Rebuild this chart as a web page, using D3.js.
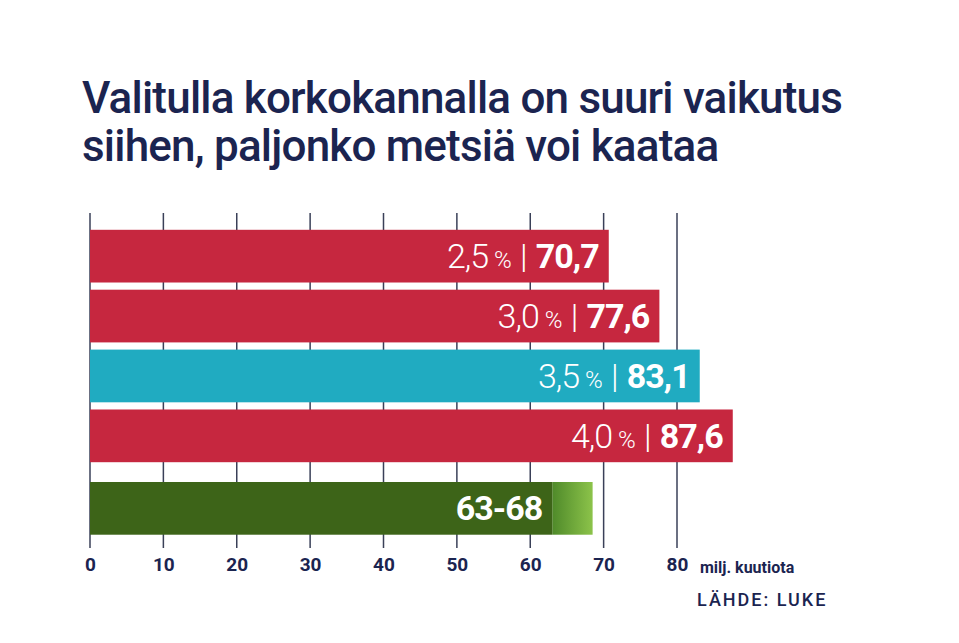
<!DOCTYPE html>
<html><head><meta charset="utf-8">
<script src="https://cdn.jsdelivr.net/npm/d3@7"></script>
<style>body{margin:0;background:#fff}</style>
</head><body><div id="chart"></div>
<script>
// chart data
var rates = ["2,5", "3,0", "3,5", "4,0"];
var volumes = [70.7, 77.6, 83.1, 87.6];
var barColors = ["#c6273f", "#c6273f", "#20abc1", "#c6273f"];
var rangeLow = 63, rangeHigh = 68.5, rangeLabel = "63-68";
var ticks = [0, 10, 20, 30, 40, 50, 60, 70, 80];

var svg = d3.select("#chart").append("svg").attr("width", 959).attr("height", 643);

var x = d3.scaleLinear().domain([0, 80]).range([90, 677]);
var y = d3.scaleBand().domain(d3.range(4)).range([228, 464]).paddingInner(0.12).paddingOuter(0.03);
var greenY = 482, bh = y.bandwidth();

// title
svg.selectAll("text.title").data(["Valitulla korkokannalla on suuri vaikutus", "siihen, paljonko metsiä voi kaataa"])
  .enter().append("text")
  .attr("x", 82).attr("y", function(d, i){ return 113 + i * 48; })
  .attr("font-family", "Roboto").attr("font-weight", 500).attr("font-size", 44)
  .attr("fill", "#1b2450").attr("letter-spacing", -0.8).text(function(d){ return d; });

// grid
svg.selectAll("line.grid").data(ticks).enter().append("line")
  .attr("x1", x).attr("x2", x).attr("y1", 213).attr("y2", 548)
  .attr("stroke", "#3a4058").attr("stroke-width", 1.5);

var defs = svg.append("defs");
var grad = defs.append("linearGradient").attr("id", "gr");
grad.append("stop").attr("offset", "0").attr("stop-color", "#4f8a2a");
grad.append("stop").attr("offset", "1").attr("stop-color", "#8cc34a");

// bars
svg.selectAll("rect.bar").data(volumes).enter().append("rect")
  .attr("x", x(0)).attr("y", function(d, i){ return y(i); })
  .attr("width", function(d){ return x(d) - x(0); }).attr("height", bh)
  .attr("fill", function(d, i){ return barColors[i]; });

var lab = svg.selectAll("text.lab").data(volumes).enter().append("text")
  .attr("x", function(d){ return x(d) - 10; })
  .attr("y", function(d, i){ return y(i) + bh / 2 + 12; })
  .attr("text-anchor", "end").attr("fill", "#fff").attr("font-family", "Roboto");
lab.append("tspan").attr("font-weight", 300).attr("font-size", 34).attr("letter-spacing", -1).text(function(d, i){ return rates[i]; });
lab.append("tspan").attr("font-weight", 300).attr("font-size", 24).text(" %");
lab.append("tspan").attr("font-weight", 300).attr("font-size", 34).text(" | ");
lab.append("tspan").attr("font-weight", 700).attr("font-size", 34).attr("letter-spacing", -1).text(function(d){ return String(d).replace(".", ","); });

// range bar
svg.append("rect").attr("x", x(rangeLow)).attr("y", greenY).attr("width", x(rangeHigh) - x(rangeLow))
  .attr("height", bh).attr("fill", "url(#gr)");
svg.append("rect").attr("x", x(0)).attr("y", greenY).attr("width", x(rangeLow) - x(0))
  .attr("height", bh).attr("fill", "#3d6418");
svg.append("text").attr("x", x(rangeLow) - 10).attr("y", greenY + bh / 2 + 12)
  .attr("text-anchor", "end").attr("fill", "#fff").attr("font-family", "Roboto")
  .attr("font-weight", 700).attr("font-size", 34).attr("letter-spacing", -1).text(rangeLabel);

// axis labels
var axis = d3.axisBottom(x).tickValues(ticks).tickSize(0).tickPadding(0);
var ag = svg.append("g").attr("transform", "translate(0,557)").call(axis);
ag.select(".domain").remove();
ag.selectAll("text").attr("font-family", "Roboto").attr("font-weight", 700)
  .attr("font-size", 19).attr("fill", "#1b2450");

svg.append("text").attr("x", 700).attr("y", 573).attr("font-family", "Roboto")
  .attr("font-weight", 700).attr("font-size", 16).attr("fill", "#1b2450").text("milj. kuutiota");
svg.append("text").attr("x", 697).attr("y", 606).attr("font-family", "Roboto")
  .attr("font-weight", 500).attr("font-size", 18).attr("letter-spacing", 2)
  .attr("fill", "#1b2450").text("LÄHDE: LUKE");
</script></body></html>
